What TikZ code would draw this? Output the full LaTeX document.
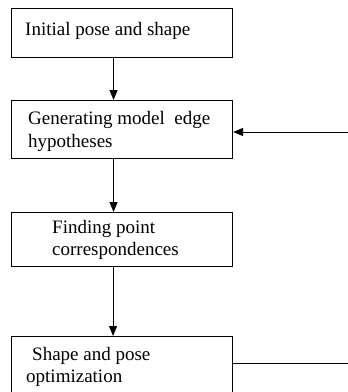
\documentclass[tikz,border=0pt]{standalone}
\usepackage{fontspec}
\setmainfont{Liberation Serif}
\usetikzlibrary{arrows.meta}
\begin{document}
\begin{tikzpicture}[x=1pt,y=-1pt,
  box/.style={draw, line width=1.1pt, inner sep=0pt, minimum width=221pt, anchor=north west},
  txt/.style={anchor=base west, inner sep=0pt, font=\fontsize{19}{23}\selectfont},
  arr/.style={-{Triangle[length=10pt,width=8pt]}, line width=1pt},
  plain/.style={line width=1pt}]
\useasboundingbox (0,0) rectangle (348,392);
\clip (0,0) rectangle (348,392);
\node[box, minimum height=49pt] (b1) at (11,8) {};
\node[box, minimum height=58pt] (b2) at (11,100) {};
\node[box, minimum height=54pt] (b3) at (11,212) {};
\node[box, minimum height=80pt] (b4) at (11,336) {};
\node[txt] (t1) at (25,35) {Initial pose and shape};
\node[txt] (t2a) at (28,124) {Generating model\ \ edge};
\node[txt] (t2b) at (28,147) {hypotheses};
\node[txt] (t3a) at (52,233) {Finding point};
\node[txt] (t3b) at (52,255) {correspondences};
\node[txt] (t4a) at (32,360) {Shape and pose};
\node[txt] (t4b) at (26,382) {optimization};
\draw[arr] ([xshift=-8.5pt]b1.south) -- ([xshift=-8.5pt]b2.north);
\draw[arr] ([xshift=-8.5pt]b2.south) -- ([xshift=-8.5pt]b3.north);
\draw[arr] ([xshift=-9pt]b3.south) -- ([xshift=-9pt]b4.north);
\coordinate (fb) at (348,132);
\coordinate (out) at (348,363);
\draw[arr] (fb) -- (fb -| b2.east);
\draw[plain] (b4.east |- out) -- (out);
\end{tikzpicture}
\end{document}
